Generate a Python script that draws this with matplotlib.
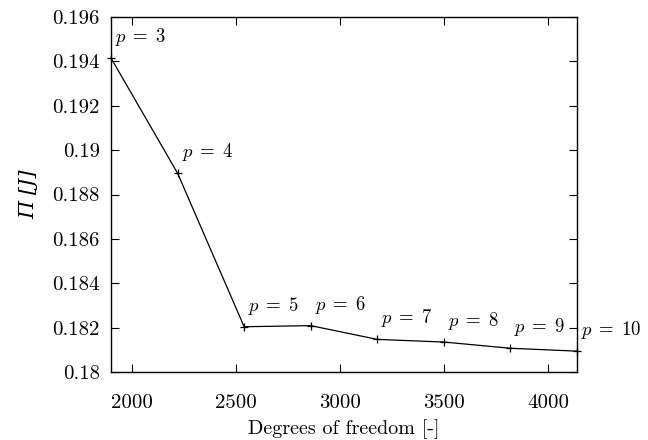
import matplotlib
matplotlib.use("Agg")
import matplotlib.pyplot as plt
from matplotlib.ticker import FixedLocator, FixedFormatter

plt.rcParams['font.family'] = 'serif'
plt.rcParams['font.serif'] = ['cmr10', 'DejaVu Serif']
plt.rcParams['mathtext.fontset'] = 'cm'
plt.rcParams['axes.formatter.use_mathtext'] = True

dof = [1900, 2220, 2540, 2860, 3180, 3500, 3820, 4140]
energy = [0.19415, 0.18896, 0.18204, 0.18209, 0.18147, 0.18135, 0.18107, 0.18094]
p_labels = [r'$p\;=\;3$', r'$p\;=\;4$', r'$p\;=\;5$', r'$p\;=\;6$',
            r'$p\;=\;7$', r'$p\;=\;8$', r'$p\;=\;9$', r'$p\;=\;10$']
xticks = [2000, 2500, 3000, 3500, 4000]
xticklabels = ['2000', '2500', '3000', '3500', '4000']
yticks = [0.18, 0.182, 0.184, 0.186, 0.188, 0.19, 0.192, 0.194, 0.196]
yticklabels = ['0.18', '0.182', '0.184', '0.186', '0.188', '0.19', '0.192', '0.194', '0.196']

fig = plt.figure(figsize=(6.48, 4.40), dpi=100)
ax = fig.add_axes([111/648, 1-372/440, (577-111)/648, (372-17)/440])

ax.plot(dof, energy, color='black', lw=0.9, marker='+', ms=6, mew=0.9, clip_on=False)
for x, y, lab in zip(dof, energy, p_labels):
    ax.annotate(lab, (x, y), xytext=(4, 21), textcoords='offset pixels',
                fontsize=13.5, ha='left', va='center', annotation_clip=False)

ax.set_xlim(1900, 4140)
ax.set_ylim(0.18, 0.196)
ax.xaxis.set_major_locator(FixedLocator(xticks))
ax.xaxis.set_major_formatter(FixedFormatter(xticklabels))
ax.yaxis.set_major_locator(FixedLocator(yticks))
ax.yaxis.set_major_formatter(FixedFormatter(yticklabels))
ax.tick_params(direction='in', length=6, width=0.8, top=True, right=True,
               labelsize=15)
ax.tick_params(axis='x', pad=16)
ax.tick_params(axis='y', pad=8)
for s in ax.spines.values():
    s.set_linewidth(1.0)

ax.set_xlabel('Degrees of freedom [-]', fontsize=14.5, labelpad=5)
ax.set_ylabel('Π [J]', fontsize=15, labelpad=10, family='DejaVu Serif',
              fontstyle='italic')

fig.savefig('out.png', dpi=100)
